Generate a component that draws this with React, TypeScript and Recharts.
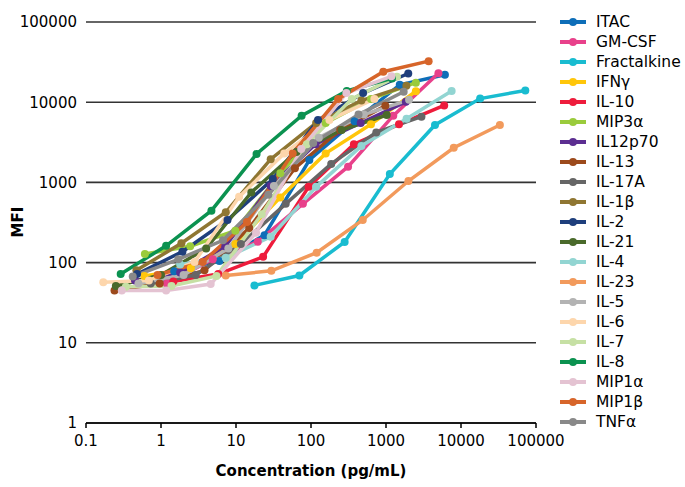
import React from 'react';
import { LineChart, Line, XAxis, YAxis, CartesianGrid } from 'recharts';

const seriesNames = ['ITAC', 'GM-CSF', 'Fractalkine', 'IFNγ', 'IL-10', 'MIP3α', 'IL12p70', 'IL-13', 'IL-17A', 'IL-1β', 'IL-2', 'IL-21', 'IL-4', 'IL-23', 'IL-5', 'IL-6', 'IL-7', 'IL-8', 'MIP1α', 'MIP1β', 'TNFα'];
const seriesColors = ['#0e6eb8', '#e8418b', '#19bcd0', '#ffc60a', '#ee1c3c', '#9acb3c', '#5c2e91', '#9c4a1c', '#666666', '#8f7632', '#1f3f7c', '#4a6a2b', '#92d5d2', '#f29a5c', '#b3b3b3', '#fdd6ac', '#c6e0a4', '#0b9250', '#e4c3d2', '#d7652a', '#898989'];

// [concentration (pg/mL), MFI]
const ITAC = [[1.5, 78], [6, 105], [24, 220], [95, 1900], [381, 5800], [1525, 16500], [6100, 22000]];
const GMCSF = [[1.2, 55], [4.9, 110], [19.5, 182], [78, 540], [312, 1570], [1250, 6800], [5000, 23000]];
const FRACTALKINE = [[17.6, 52], [70, 69], [281, 181], [1125, 1270], [4500, 5200], [18000, 11100], [72000, 14000]];
const IFNG = [[0.6, 68], [2.5, 85], [9.8, 170], [39, 650], [157, 2300], [630, 5300], [2500, 13700]];
const IL10 = [[1.46, 58], [5.8, 72], [23, 118], [93, 880], [373, 3000], [1490, 5300], [5970, 9100]];
const MIP3A = [[0.61, 128], [2.45, 160], [9.8, 250], [39, 1300], [157, 5500], [630, 11000], [2500, 17500]];
const IL12P70 = [[0.45, 60], [1.8, 75], [7.2, 160], [29, 900], [115, 3000], [460, 5500], [1840, 10100]];
const IL13 = [[0.24, 45], [0.96, 55], [3.8, 80], [15, 270], [61, 1500], [245, 4500], [980, 9000]];
const IL17A = [[0.73, 55], [2.9, 70], [11.6, 170], [46, 540], [186, 1700], [742, 4200], [2970, 6600]];
const IL1B = [[0.47, 80], [1.87, 174], [7.3, 424], [29, 1950], [117, 5500], [470, 10500], [1870, 16000]];
const IL2 = [[0.48, 72], [1.93, 137], [7.7, 340], [31, 1100], [124, 6000], [495, 13000], [1980, 22800]];
const IL21 = [[0.25, 51], [1, 70], [4, 150], [16, 750], [64, 2400], [256, 4500], [1024, 6900]];
const IL4 = [[1.8, 95], [7.3, 115], [29, 210], [117, 880], [470, 2850], [1880, 6200], [7500, 13800]];
const IL23 = [[7.3, 69], [29.6, 79], [119, 133], [490, 340], [1990, 1040], [8000, 2700], [33000, 5200]];
const IL5 = [[0.5, 55], [2, 70], [7.9, 150], [32, 900], [127, 3600], [507, 7000], [2030, 10700]];
const IL6 = [[0.17, 57], [0.69, 60], [2.8, 102], [11, 660], [44, 2300], [176, 6000], [700, 11000]];
const IL7 = [[0.34, 50], [1.38, 51], [5.5, 68], [22, 400], [88, 3000], [350, 11000], [1400, 20800]];
const IL8 = [[0.29, 72], [1.17, 162], [4.7, 444], [18.8, 2260], [75, 6800], [300, 13800], [1200, 19800]];
const MIP1A = [[0.3, 45], [1.17, 45], [4.6, 54], [18.5, 235], [74, 2600], [296, 13000], [1180, 21000]];
const MIP1B = [[0.9, 70], [3.6, 102], [14, 320], [57, 2300], [230, 11000], [920, 24000], [3700, 32500]];
const TNFA = [[0.42, 67], [1.7, 110], [6.7, 190], [27, 700], [107, 3100], [430, 7000], [1720, 13500]];

const seriesValues = [ITAC, GMCSF, FRACTALKINE, IFNG, IL10, MIP3A, IL12P70, IL13, IL17A, IL1B, IL2, IL21, IL4, IL23, IL5, IL6, IL7, IL8, MIP1A, MIP1B, TNFA];

const xTicks = [0.1, 1, 10, 100, 1000, 10000, 100000];
const yTicks = [1, 10, 100, 1000, 10000, 100000];
const xTitle = 'Concentration (pg/mL)';
const yTitle = 'MFI';

const FONT = '"DejaVu Sans", Verdana, sans-serif';

const XTitle = () => (
  <text x={311} y={476} textAnchor="middle" fontFamily={FONT} fontWeight="bold" fontSize={15} fill="#000">
    {xTitle}
  </text>
);

const YTitle = () => (
  <text x={18} y={222} transform="rotate(-90 18 222)" textAnchor="middle" dominantBaseline="central" fontFamily={FONT} fontWeight="bold" fontSize={15} fill="#000">
    {yTitle}
  </text>
);

const fmt = (v: number) => (v < 1 ? String(v) : String(Math.round(v)));

export default function App() {
  const lines = seriesNames.map((name, i) => ({
    name,
    color: seriesColors[i],
    data: seriesValues[i].map(([x, y]) => ({ x, y })),
  }));
  return (
    <div style={{ position: 'absolute', left: 0, top: 0, width: 685, height: 487, background: '#fff', fontFamily: FONT }}>
      <LineChart width={685} height={487} margin={{ top: 22, right: 149, bottom: 0, left: 0 }}>
        <CartesianGrid vertical={false} stroke="#333" strokeWidth={1.6} />
        <XAxis
          dataKey="x"
          type="number"
          scale="log"
          domain={[0.1, 100000]}
          allowDataOverflow
          ticks={xTicks}
          tickFormatter={fmt}
          interval={0}
          height={64}
          tickSize={5}
          tickMargin={7}
          axisLine={{ stroke: '#000', strokeWidth: 1.6 }}
          tickLine={{ stroke: '#000', strokeWidth: 1.5 }}
          tick={{ fontSize: 15, fill: '#000', fontFamily: FONT }}
          label={<XTitle />}
        />
        <YAxis
          type="number"
          scale="log"
          domain={[1, 100000]}
          allowDataOverflow
          ticks={yTicks}
          tickFormatter={fmt}
          interval={0}
          width={86}
          tickSize={0}
          tickMargin={9}
          axisLine={false}
          tickLine={false}
          tick={{ fontSize: 15, fill: '#000', fontFamily: FONT }}
          label={<YTitle />}
        />
        {lines.map((s) => (
          <Line
            key={s.name}
            data={s.data}
            dataKey="y"
            name={s.name}
            stroke={s.color}
            strokeWidth={3.5}
            dot={{ r: 4, fill: s.color, stroke: s.color, strokeWidth: 0 }}
            isAnimationActive={false}
          />
        ))}
      </LineChart>
      {lines.map((s, i) => (
        <div
          key={s.name}
          style={{ position: 'absolute', left: 558, top: 22 + i * 20 - 10, height: 20, display: 'flex', alignItems: 'center' }}
        >
          <svg width={30} height={20} style={{ display: 'block' }}>
            <line x1={2} y1={10} x2={28} y2={10} stroke={s.color} strokeWidth={4} />
            <circle cx={15} cy={10} r={4} fill={s.color} />
          </svg>
          <span style={{ marginLeft: 8, fontSize: 15.5, color: '#000', fontFamily: FONT, lineHeight: '20px', whiteSpace: 'nowrap' }}>{s.name}</span>
        </div>
      ))}
    </div>
  );
}
